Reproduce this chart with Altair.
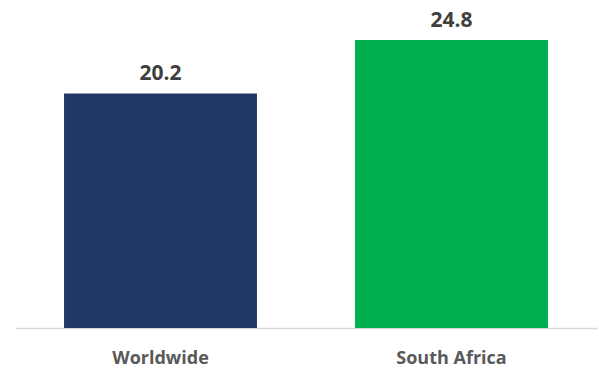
import altair as alt
import pandas as pd

categories = ["Worldwide", "South Africa"]
values = [20.2, 24.8]
colors = ["#203864", "#00B050"]

df = pd.DataFrame({"region": categories, "value": values, "color": colors})

base = alt.Chart(df).encode(
    x=alt.X(
        "region:N",
        sort=categories,
        scale=alt.Scale(paddingInner=0.337, paddingOuter=0.1685),
        axis=alt.Axis(
            title=None,
            labelAngle=0,
            ticks=False,
            domainColor="#D9D9D9",
            domainWidth=1.5,
            labelPadding=35,
            labelFont="Open Sans",
            labelFontWeight="bold",
            labelFontSize=18,
            labelColor="#595959",
            labelBaseline="alphabetic",
        ),
    ),
    y=alt.Y(
        "value:Q",
        scale=alt.Scale(domain=[0, 28.25], nice=False),
        axis=None,
    ),
)

bars = base.mark_bar().encode(color=alt.Color("color:N", scale=None))

labels = base.mark_text(
    dy=-13,
    baseline="alphabetic",
    font="Open Sans",
    fontWeight="bold",
    fontSize=21,
    color="#404040",
).encode(text=alt.Text("value:Q", format=".1f"))

chart = (
    (bars + labels)
    .properties(
        width=582,
        height=328,
        autosize=alt.AutoSizeParams(type="none"),
        padding={"left": 15, "top": 0, "right": 2, "bottom": 40},
    )
    .configure_view(stroke=None)
)

chart.save("out.html", embed_options={"renderer": "svg", "actions": False})
